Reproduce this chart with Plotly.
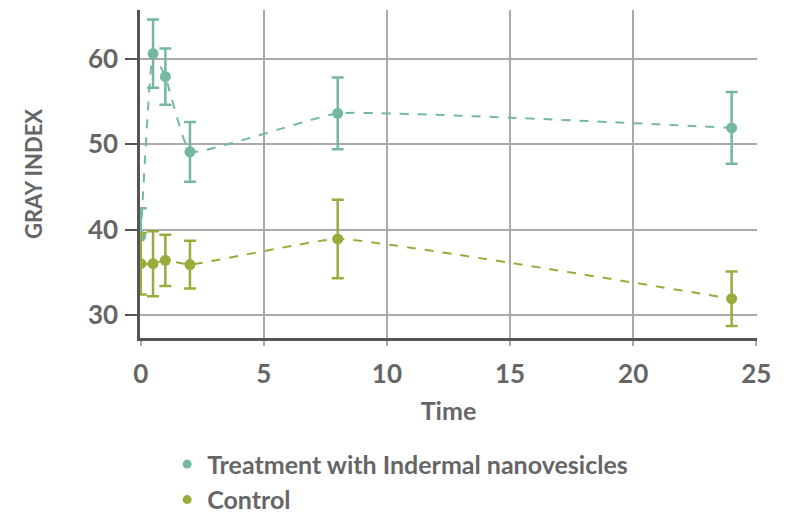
import plotly.graph_objects as go

time_treat = [0, 0.5, 1, 2, 8, 24]
gray_treat = [39.2, 60.6, 57.9, 49.1, 53.6, 51.9]
err_treat = [3.3, 4.0, 3.3, 3.5, 4.2, 4.2]

time_ctrl = [0, 0.5, 1, 2, 8, 24]
gray_ctrl = [36.0, 36.0, 36.4, 35.9, 38.9, 31.9]
err_ctrl = [3.6, 3.8, 3.0, 2.8, 4.6, 3.2]

names = ["Treatment with Indermal nanovesicles", "Control"]
teal = "#74b8a3"
olive = "#9aab3c"
txt = "#666666"
font_family = "Lato, 'Open Sans', sans-serif"

fig = go.Figure()
for xs, ys, es, name, col in [(time_treat, gray_treat, err_treat, names[0], teal),
                              (time_ctrl, gray_ctrl, err_ctrl, names[1], olive)]:
    fig.add_trace(go.Scatter(
        x=xs, y=ys, name=name, mode="lines+markers", showlegend=False,
        line=dict(color=col, width=2, dash="dash", shape="spline", smoothing=0.3),
        marker=dict(color=col, size=11),
        error_y=dict(type="data", array=es, visible=True, color=col, thickness=2.5, width=6),
    ))
for name, col in [(names[0], teal), (names[1], olive)]:
    fig.add_trace(go.Scatter(x=[None], y=[None], name=name, mode="markers",
                             marker=dict(color=col, size=9), showlegend=True))

# the page body adds an 8px offset; margins compensate for it
fig.update_layout(
    width=791, height=514,
    margin=dict(l=132, r=42, t=2, b=184, autoexpand=False),
    plot_bgcolor="white", paper_bgcolor="white",
    font=dict(family=font_family, color=txt, size=22),
    showlegend=True,
    legend=dict(orientation="v", x=0.044, y=-0.315, xanchor="left", yanchor="top",
                font=dict(size=25, color=txt, family=font_family, weight="bold"),
                tracegroupgap=0, itemwidth=30),
    xaxis=dict(
        range=[-0.03, 25.03], tickvals=[0, 5, 10, 15, 20, 25], automargin=False,
        showgrid=True, gridcolor="#aaaaaa", gridwidth=1.5, zeroline=False,
        showline=True, linecolor="#555555", linewidth=2.5,
        ticks="outside", ticklen=5, tickcolor="#aaaaaa", tickwidth=1.5,
        ticklabelstandoff=6,
        tickfont=dict(size=26, color=txt, family=font_family, weight="bold"),
        title=dict(text="Time", font=dict(size=25, color=txt, family=font_family, weight="bold")),
    ),
    yaxis=dict(
        range=[27.3, 65.7], tickvals=[30, 40, 50, 60], automargin=False,
        showgrid=True, gridcolor="#aaaaaa", gridwidth=1.5, zeroline=False,
        showline=True, linecolor="#555555", linewidth=2.5,
        ticks="outside", ticklen=12, tickcolor="#555555", tickwidth=2,
        ticklabelstandoff=2,
        tickfont=dict(size=26, color=txt, family=font_family, weight="bold"),
        title=dict(text="GRAY INDEX", standoff=40,
                   font=dict(size=22, color=txt, family=font_family, weight="bold")),
    ),
)

fig.write_html("out.html")
